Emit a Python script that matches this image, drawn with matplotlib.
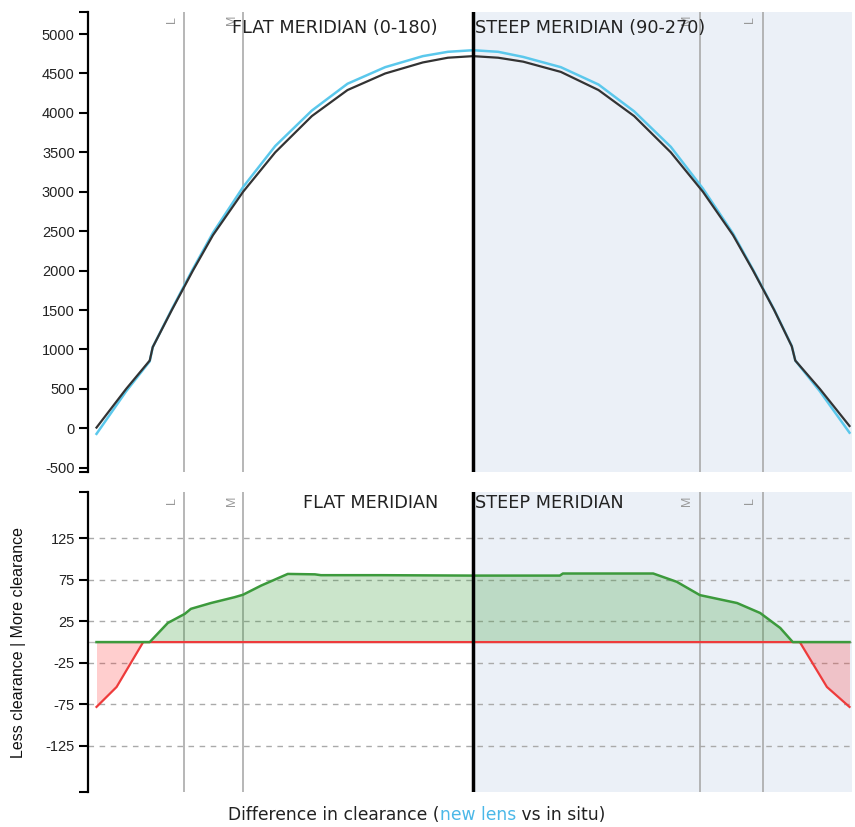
import matplotlib.pyplot as plt
from matplotlib.transforms import blended_transform_factory
import numpy as np

# chord position (mm) vs sag (microns), in situ lens and new lens
pos_mm = [-7.5, -6.91, -6.44, -6.38, -6.0, -5.58, -5.18, -4.58, -3.94, -3.21, -2.5, -1.75, -1.0, -0.5, 0.0,
          0.5, 1.0, 1.75, 2.5, 3.21, 3.94, 4.58, 5.18, 5.58, 6.0, 6.35, 6.42, 6.91, 7.5]
in_situ = [10, 500, 860, 1030, 1500, 2000, 2450, 3000, 3500, 3960, 4290, 4500, 4640, 4700, 4720,
           4700, 4650, 4520, 4290, 3960, 3500, 3000, 2450, 2000, 1500, 1040, 860, 500, 30]
new_lens = [-70, 470, 850, 1030, 1510, 2020, 2480, 3060, 3580, 4030, 4370, 4580, 4720, 4775, 4795,
            4775, 4710, 4580, 4360, 4020, 3570, 3040, 2470, 2010, 1505, 1045, 860, 470, -55]

# clearance difference (microns)
diff_mm = [-7.5, -7.1, -6.57, -6.44, -6.08, -5.74, -5.62, -5.22, -4.75, -4.58, -4.22, -3.69, -3.15,
           -3.03, -1.83, 0.0, 1.73, 1.79, 3.59, 4.06, 4.52, 5.26, 5.72, 6.12, 6.37, 6.51, 7.05, 7.5]
diff_um = [-78, -54, 0, 0, 23, 34, 40, 47, 54, 57, 68, 82, 81.5,
           80.5, 80.5, 80, 80, 82.5, 82.5, 72.5, 56.5, 47, 35, 17, 0, 0, -54, -78]

# landing zone markers
marker_pos = [-5.76, -4.58, 4.52, 5.78]
marker_txt = ["L", "M", "M", "L"]

top_ticks = [-500, 0, 500, 1000, 1500, 2000, 2500, 3000, 3500, 4000, 4500, 5000]
bot_ticks = [-125, -75, -25, 25, 75, 125]

XLIM = (-7.67, 7.55)
SHADE = "#ebf0f7"
GREY = "#aaaaaa"

plt.rcParams['font.family'] = ['Liberation Sans', 'DejaVu Sans']
plt.rcParams['axes.unicode_minus'] = False
title_font = ['DejaVu Sans']
TITLE_SIZE = 12.7

fig = plt.figure(figsize=(8.55, 8.27), dpi=100)
ax_top = fig.add_axes([0.1029, 0.4296, 0.8936, 0.5562])
ax_bot = fig.add_axes([0.1029, 0.0427, 0.8936, 0.3628])


def style_axis(ax, ylim, ticks):
    ax.set_xlim(*XLIM)
    ax.set_ylim(*ylim)
    for side in ["top", "right", "bottom"]:
        ax.spines[side].set_visible(False)
    ax.spines["left"].set_linewidth(1.6)
    ax.set_xticks([])
    ax.set_yticks(ticks)
    ax.set_yticks(list(ylim), minor=True)
    ax.tick_params(axis="y", which="both", length=6.5, width=1.5, pad=3,
                   labelsize=10.5, labelcolor="#222222")
    ax.axvspan(0, XLIM[1], color=SHADE, zorder=0, lw=0)
    for mp in marker_pos:
        ax.axvline(mp, color=GREY, lw=1.2, zorder=1)
    ax.axvline(0, color="black", lw=2.5, zorder=5)


style_axis(ax_top, (-550, 5283), top_ticks)
style_axis(ax_bot, (-180, 181), bot_ticks)

# upper chart: sag profiles
ax_top.plot(pos_mm, new_lens, color="#5bc8ec", lw=1.8, zorder=3)
ax_top.plot(pos_mm, in_situ, color="#333333", lw=1.6, zorder=4)

# lower chart: clearance difference
d = np.array(diff_um, dtype=float)
more = np.clip(d, 0, None)
less = np.clip(d, None, 0)
for t in bot_ticks:
    ax_bot.axhline(t, color=GREY, lw=1, ls=(0, (4, 4)), zorder=1)
ax_bot.axhline(0, color="#bbbbbb", lw=1, zorder=1)
ax_bot.fill_between(diff_mm, 0, more, color="#339933", alpha=0.25, lw=0, zorder=2)
ax_bot.fill_between(diff_mm, 0, less, color="#ff2222", alpha=0.22, lw=0, zorder=2)
ax_bot.plot(diff_mm, less, color="#ee3b3b", lw=1.6, zorder=3)
ax_bot.plot(diff_mm, more, color="#3c9a3c", lw=1.8, zorder=3)

# titles and zone markers
tr_top = blended_transform_factory(ax_top.transData, ax_top.transAxes)
tr_bot = blended_transform_factory(ax_bot.transData, ax_bot.transAxes)
ax_top.text(-0.70, 0.9646, "FLAT MERIDIAN (0-180)", transform=tr_top, ha="right", va="center",
            fontsize=TITLE_SIZE, family=title_font, color="#222222", zorder=6)
ax_top.text(0.04, 0.9646, "STEEP MERIDIAN (90-270)", transform=tr_top, ha="left", va="center",
            fontsize=TITLE_SIZE, family=title_font, color="#222222", zorder=6)
ax_bot.text(-0.70, 0.962, "FLAT MERIDIAN", transform=tr_bot, ha="right", va="center",
            fontsize=TITLE_SIZE, family=title_font, color="#222222", zorder=6)
ax_bot.text(0.04, 0.962, "STEEP MERIDIAN", transform=tr_bot, ha="left", va="center",
            fontsize=TITLE_SIZE, family=title_font, color="#222222", zorder=6)

label_pos = [-6.0, -4.8, 4.26, 5.52]
for lp, txt in zip(label_pos, marker_txt):
    ax_top.text(lp, 0.982, txt, transform=tr_top, ha="center", va="center", rotation=90,
                fontsize=9, color="#999999", zorder=5)
    ax_bot.text(lp, 0.969, txt, transform=tr_bot, ha="center", va="center", rotation=90,
                fontsize=9, color="#999999", zorder=5)

fig.text(19 / 855, 1 - 642 / 827, "Less clearance | More clearance", rotation=90,
         ha="center", va="center", fontsize=11.5, color="#111111")

# x label with coloured part
parts = [("Difference in clearance (", "#222222"), ("new lens", "#4bb8e8"), (" vs in situ)", "#222222")]
fig.canvas.draw()
renderer = fig.canvas.get_renderer()
x_px = 228
for txt, col in parts:
    t = fig.text(x_px / 855, 1 - 815 / 827, txt, ha="left", va="center", fontsize=12.3,
                 family=title_font, color=col)
    x_px += t.get_window_extent(renderer).width

fig.savefig("out.png", dpi=100)
